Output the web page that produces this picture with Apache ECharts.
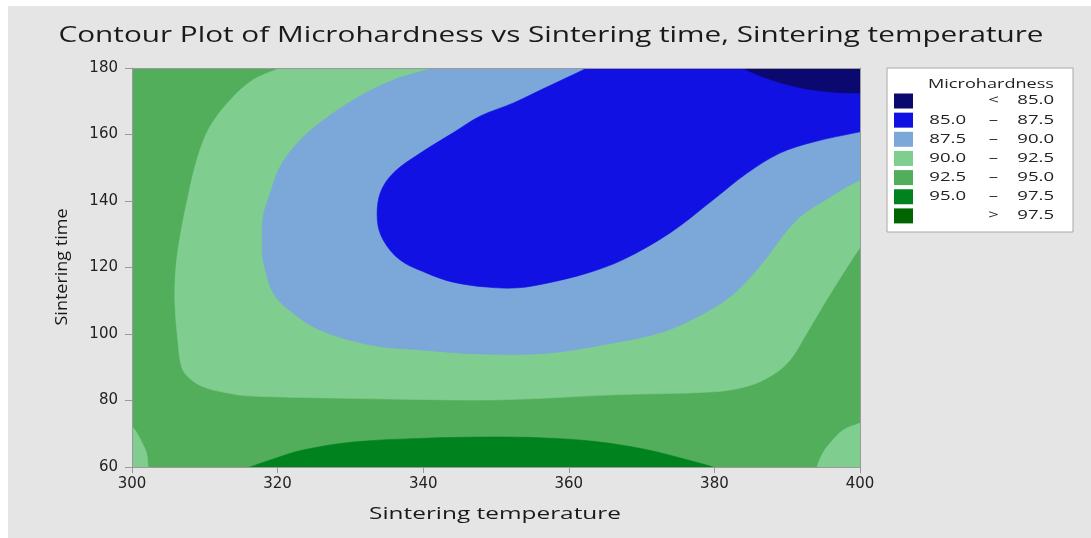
<!DOCTYPE html>
<html><head><meta charset="utf-8">
<script src="https://cdn.jsdelivr.net/npm/echarts@6/dist/echarts.min.js"></script>
<style>html,body{margin:0;padding:0;background:#fff}#c{width:1091px;height:538px}</style>
</head><body><div id="c"></div>
<script>
// ---------- data ----------
const chartTitle = 'Contour Plot of Microhardness vs Sintering time, Sintering temperature';
const xName = 'Sintering temperature';
const yName = 'Sintering time';
const legendTitle = 'Microhardness';
const legendLow  = ['', '85.0', '87.5', '90.0', '92.5', '95.0', ''];
const legendSep  = ['<', '–', '–', '–', '–', '–', '>'];
const legendHigh = ['85.0', '87.5', '90.0', '92.5', '95.0', '97.5', '97.5'];
const levelColors = ['#0b0870', '#1111e3', '#7ba7d9', '#80ce8f', '#52ae5a', '#00821f', '#006400'];

// contour regions (Sintering temperature, Sintering time), painted in order.
// Each outline runs a little past the plot edges; the part outside is clipped.
const band_92_95 = [[300,60],[400,60],[400,180],[300,180]];
const band_90_92_main = [[324,184],[320.3,180],[316.6,176.4],[313.5,170.4],[310.7,162.3],[308.9,152.3],[307.6,140.3],[306.6,129.2],[306.0,119.2],[305.9,109.3],[306.3,98],[306.8,90.2],[307.7,87.1],[309.8,84.1],[313,82.3],[316,81.4],[325.8,80.8],[337,80.4],[350.5,80.2],[366,81.7],[379.8,82.6],[384.4,84.2],[388,87.7],[390.4,92.2],[392.7,100.3],[395.4,110.2],[397.7,118.3],[400,126],[402.5,134],[412,192]];
const band_90_92_left = [[298,74.5],[300,72],[300.6,70.5],[301.4,67.2],[302,64.2],[302.2,60],[302.3,56],[295,54]];
const band_90_92_right = [[402,75],[400,73.2],[397.7,71.1],[395.9,67.2],[394.9,64.2],[394.1,60],[393.8,56],[406,54]];
const band_87_90 = [[344.5,183],[341.3,180],[335.9,176.4],[330.4,170.4],[325.8,163.5],[322.7,157.4],[320.3,150.2],[319,142.4],[318,135.2],[317.9,126.2],[318,122.3],[319.4,112.3],[322.1,106.3],[325.8,101.2],[332.7,96.7],[339.6,95.2],[347.8,94],[357,94.2],[366.1,97.3],[372.9,100.6],[377.6,105.1],[382.1,111.1],[386,119.8],[391.3,134.3],[395.9,141.2],[400,146.3],[404,149.5],[412,192]];
const band_85_87 = [[365.5,183.5],[362.5,180],[357,174.3],[352.4,169.5],[347.8,165.5],[344.1,160.5],[339.6,154.4],[335.9,148.4],[334.1,142.4],[333.7,134.3],[334.5,128.3],[336.8,122.3],[340.5,118.3],[344.1,115.6],[348.8,114.1],[353,113.9],[357,115.3],[362.5,118.3],[367.4,122.3],[373.9,130.4],[379.8,140.3],[384.5,148.4],[389,154.4],[393.5,157.7],[400,160.8],[405,163],[412,192]];
const band_lt_85 = [[382.5,182],[383.9,180],[386.7,177.3],[391.3,174.3],[395.9,172.8],[400,172.5],[404,172.4],[410,190]];
const band_95_97 = [[313.5,58],[316.2,60],[319,62.1],[323.5,65.1],[330.4,67.5],[339.6,68.6],[348,69],[356,68.8],[363.9,67.6],[370.7,65.2],[376.2,62.2],[379.8,60],[382.5,58],[350,50]];

const regionList = [
  [band_92_95, 4, 0], [band_90_92_main, 3, 0.35], [band_90_92_left, 3, 0.35], [band_90_92_right, 3, 0.35],
  [band_87_90, 2, 0.35], [band_85_87, 1, 0.35], [band_lt_85, 0, 0.35], [band_95_97, 5, 0.35]
];

// ---------- helpers ----------
const mctx = document.createElement('canvas').getContext('2d');
function fit(text, font, target) { mctx.font = font; return target / mctx.measureText(text).width; }
const FF = '"Open Sans"';

const series = regionList.map(([pts, lv, sm]) => ({
  type: 'custom',
  name: legendLow[lv] ? legendLow[lv] + ' – ' + legendHigh[lv] : legendSep[lv] + ' ' + legendHigh[lv],
  coordinateSystem: 'cartesian2d',
  silent: true,
  animation: false,
  clip: true,
  data: [[pts[1][0], pts[1][1]]],
  renderItem: (params, api) => ({
    type: 'polygon',
    shape: { points: pts.map(p => api.coord(p)), smooth: sm },
    style: { fill: levelColors[lv], stroke: levelColors[lv], lineWidth: 0.6 }
  })
}));

// legend and text graphics
const graphics = [
  { type: 'rect', shape: { x: 0, y: 0, width: 8, height: 538 }, style: { fill: '#ffffff' } },
  { type: 'rect', shape: { x: 0, y: 0, width: 1091, height: 6 }, style: { fill: '#ffffff' } },
  { type: 'text', x: 551, y: 36, scaleX: fit(chartTitle, '21px ' + FF, 985),
    style: { text: chartTitle, font: '21px ' + FF, fill: '#1a1a1a', textAlign: 'center', textVerticalAlign: 'middle' } },
  { type: 'text', x: 495, y: 514, scaleX: fit(xName, '17px ' + FF, 252),
    style: { text: xName, font: '17px ' + FF, fill: '#1a1a1a', textAlign: 'center', textVerticalAlign: 'middle' } },
  { type: 'text', x: 62, y: 267, rotation: Math.PI / 2, scaleX: fit(yName, '16px ' + FF, 117),
    style: { text: yName, font: '16px ' + FF, fill: '#1a1a1a', textAlign: 'center', textVerticalAlign: 'middle' } },
  { type: 'rect', shape: { x: 887, y: 68, width: 186, height: 164 }, style: { fill: '#ffffff', stroke: '#a8a8a8', lineWidth: 1 } },
  { type: 'text', x: 991, y: 84, scaleX: fit(legendTitle, '12.5px ' + FF, 126),
    style: { text: legendTitle, font: '12.5px ' + FF, fill: '#222', textAlign: 'center', textVerticalAlign: 'middle' } }
];
const numScale = fit('85.0', '12px ' + FF, 36.7);
levelColors.forEach((c, i) => {
  const cy = 101 + i * 19.15;
  graphics.push({ type: 'rect', shape: { x: 894, y: cy - 7.5, width: 19, height: 15 }, style: { fill: c } });
  if (legendLow[i]) graphics.push({ type: 'text', x: 966, y: cy, scaleX: numScale,
    style: { text: legendLow[i], font: '12px ' + FF, fill: '#222', textAlign: 'right', textVerticalAlign: 'middle' } });
  graphics.push({ type: 'text', x: 993.5, y: cy, scaleX: numScale,
    style: { text: legendSep[i], font: '12px ' + FF, fill: '#222', textAlign: 'center', textVerticalAlign: 'middle' } });
  graphics.push({ type: 'text', x: 1054, y: cy, scaleX: numScale,
    style: { text: legendHigh[i], font: '12px ' + FF, fill: '#222', textAlign: 'right', textVerticalAlign: 'middle' } });
});

const axisLineStyle = { lineStyle: { color: '#9a9a9a', width: 1 } };
const tickFont = { fontFamily: 'DejaVu Sans', fontSize: 15, color: '#222' };
const option = {
  backgroundColor: '#e5e5e5',
  animation: false,
  grid: { left: 132, right: 231, top: 68, bottom: 71, show: false },
  xAxis: [
    { type: 'value', min: 300, max: 400, interval: 20, z: 10,
      axisLine: Object.assign({ show: true, onZero: false }, axisLineStyle),
      axisTick: { show: true, length: 6, lineStyle: { color: '#9a9a9a' } },
      axisLabel: Object.assign({ margin: 10 }, tickFont),
      splitLine: { show: false } },
    { type: 'value', position: 'top', min: 300, max: 400, z: 10,
      axisLine: Object.assign({ show: true, onZero: false }, axisLineStyle),
      axisTick: { show: false }, axisLabel: { show: false }, splitLine: { show: false } }
  ],
  yAxis: [
    { type: 'value', min: 60, max: 180, interval: 20, z: 10,
      axisLine: Object.assign({ show: true, onZero: false }, axisLineStyle),
      axisTick: { show: true, length: 7, lineStyle: { color: '#9a9a9a' } },
      axisLabel: Object.assign({ margin: 14 }, tickFont),
      splitLine: { show: false } },
    { type: 'value', position: 'right', min: 60, max: 180, z: 10,
      axisLine: Object.assign({ show: true, onZero: false }, axisLineStyle),
      axisTick: { show: false }, axisLabel: { show: false }, splitLine: { show: false } }
  ],
  graphic: graphics,
  series: series
};
const chart = echarts.init(document.getElementById('c'));
chart.setOption(option);
</script></body></html>
